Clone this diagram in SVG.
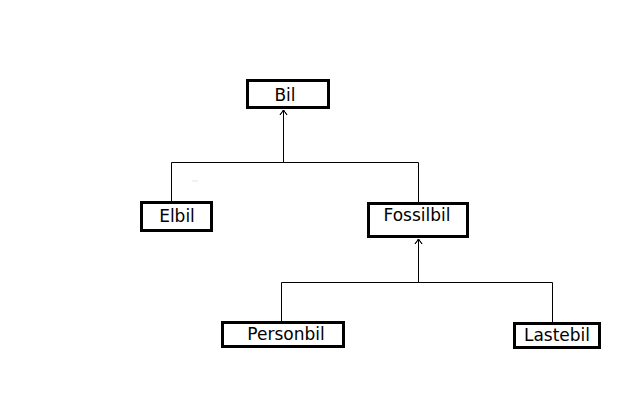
<svg xmlns="http://www.w3.org/2000/svg" width="640" height="400" viewBox="0 0 640 400">
<defs>
<marker id="open" viewBox="-6 -6 12 12" markerWidth="12" markerHeight="12" refX="0" refY="0" orient="auto" markerUnits="userSpaceOnUse">
<path d="M-5,-3.5 L0,0 L-5,3.5" fill="none" stroke="#000" stroke-width="1"/>
</marker>
<style>
.box{fill:#fff;stroke:#000;stroke-width:3}
.lbl{font-family:"DejaVu Sans",sans-serif;font-size:17px;fill:#000;text-anchor:middle}
.con{fill:none;stroke:#000;stroke-width:1}
</style>
</defs>
<rect width="640" height="400" fill="#fff"/>
<g id="connectors">
<path class="con" d="M171.5,201 V162.5 H283.5 V110" marker-end="url(#open)"/>
<path class="con" d="M418.5,202 V162.5 H283.5 V110" marker-end="url(#open)"/>
<path class="con" d="M281.5,321 V282.5 H418.5 V239" marker-end="url(#open)"/>
<path class="con" d="M552.5,322 V282.5 H418.5 V239" marker-end="url(#open)"/>
<line x1="192" y1="181" x2="198" y2="181" stroke="#e4e4e4" stroke-width="1"/>
</g>
<g id="bil">
<rect class="box" x="247.5" y="80.5" width="81" height="27"/>
<text class="lbl" x="285" y="101">Bil</text>
</g>
<g id="elbil">
<rect class="box" x="141.5" y="202.5" width="70" height="28"/>
<text class="lbl" x="177" y="222">Elbil</text>
</g>
<g id="fossilbil">
<rect class="box" x="368.5" y="203.5" width="99" height="33"/>
<text class="lbl" x="417" y="221">Fossilbil</text>
</g>
<g id="personbil">
<rect class="box" x="222.5" y="322.5" width="121" height="24"/>
<text class="lbl" x="286" y="340">Personbil</text>
</g>
<g id="lastebil">
<rect class="box" x="514.5" y="323.5" width="85" height="24"/>
<text class="lbl" x="557" y="341">Lastebil</text>
</g>
</svg>
